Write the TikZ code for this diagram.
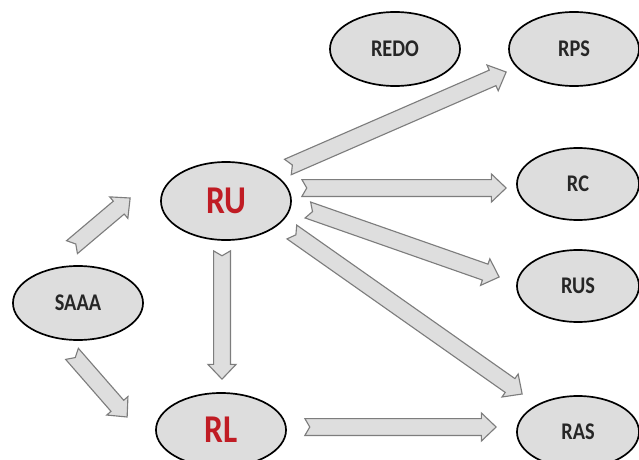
\documentclass[tikz,border=0pt]{standalone}
\usepackage{fontspec}
\setmainfont{Carlito}
\usetikzlibrary{calc,shapes.geometric}

\definecolor{rured}{RGB}{192,28,36}
\definecolor{ovalfill}{RGB}{221,221,221}
\definecolor{arrfill}{RGB}{222,222,222}
\definecolor{arrline}{RGB}{125,125,125}

\newcommand{\shaftw}{6pt}
\newcommand{\headw}{10pt}
\newcommand{\headl}{10.5pt}
\newcommand{\notchd}{3.5pt}
\newcommand{\narrow}[1]{\scalebox{0.85}[1]{#1}}

% notched block arrow from #1 to #2
\newcommand{\blockarrow}[2]{%
  \draw[blockarr] let \p1=#1, \p2=#2,
    \n1={atan2(\y2-\y1,\x2-\x1)}, \n2={veclen(\x2-\x1,\y2-\y1)} in
    ($(\p1)+(\n1+90:\shaftw)$)
    -- ($(\p1)+(\n1:\n2-\headl)+(\n1+90:\shaftw)$)
    -- ($(\p1)+(\n1:\n2-\headl)+(\n1+90:\headw)$)
    -- (\p2)
    -- ($(\p1)+(\n1:\n2-\headl)+(\n1-90:\headw)$)
    -- ($(\p1)+(\n1:\n2-\headl)+(\n1-90:\shaftw)$)
    -- ($(\p1)+(\n1-90:\shaftw)$)
    -- ($(\p1)+(\n1:\notchd)$) -- cycle;}

\tikzset{
  oval/.style={ellipse, draw=black, line width=1.2pt, fill=ovalfill,
    minimum width=3.25cm, minimum height=1.85cm, inner sep=0pt,
    font=\fontsize{17}{20}\selectfont\bfseries, text=black!85},
  smalloval/.style={oval, minimum width=3.05cm, minimum height=1.8cm},
  bigoval/.style={oval, font=\fontsize{28}{32}\selectfont\bfseries, text=rured},
  blockarr/.style={draw=arrline, fill=arrfill, line width=0.8pt, line join=miter},
}

\begin{document}
\begin{tikzpicture}[x=0.025cm, y=-0.025cm]
\useasboundingbox (0,0) rectangle (639,460);

% ovals
\node[oval] (saaa) at (78,303) {\narrow{SAAA}};
\node[bigoval, minimum height=1.95cm] (ru) at (226,201) {\narrow{RU}};
\node[bigoval] (rl) at (221,430) {\narrow{RL}};
\node[oval] (redo) at (395,49) {\narrow{REDO}};
\node[oval] (rps) at (574,49) {\narrow{RPS}};
\node[smalloval] (rc) at (578,184) {\narrow{RC}};
\node[smalloval] (rus) at (578,286) {\narrow{RUS}};
\node[smalloval] (ras) at (578,432) {\narrow{RAS}};

% block arrows
\blockarrow{($(saaa.north)+(-6,-18)$)}{($(ru.west)+(-30,-3)$)}
\blockarrow{($(saaa.south)+(-6,13)$)}{($(rl.west)+(-28,-13)$)}
\blockarrow{($(ru.south)+(-4,10)$)}{($(rl.north)+(1,-13)$)}
\blockarrow{($(ru.east)+(-4,-34)$)}{($(rps.west)+(-2,23)$)}
\blockarrow{($(ru.east)+(10,-13)$)}{($(rc.west)+(-10,4)$)}
\blockarrow{($(ru.east)+(16,9)$)}{($(rus.west)+(-17,-9)$)}
\blockarrow{($(ru.east)+(0,31)$)}{($(ras.west)+(6,-38)$)}
\blockarrow{($(rl.east)+(18,-3)$)}{($(ras.west)+(-20,-5)$)}
\end{tikzpicture}
\end{document}
